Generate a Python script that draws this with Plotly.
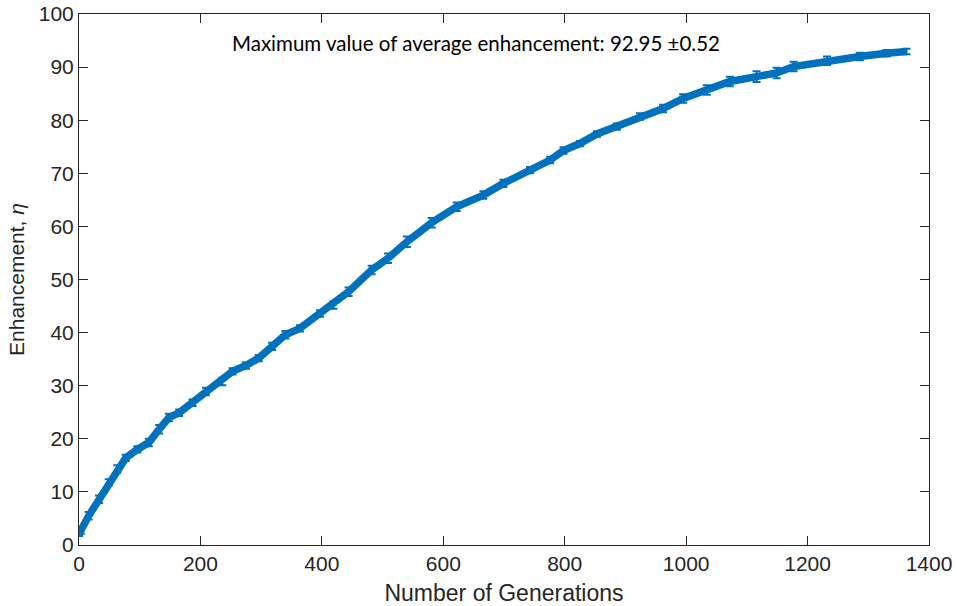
import plotly.graph_objects as go

generations = [0, 3, 16, 33, 49, 63, 77, 96, 115, 132, 148, 165, 187, 209, 236, 253,
               275, 296, 318, 340, 364, 397, 419, 444, 482, 509, 540, 581, 622, 666,
               699, 743, 776, 798, 825, 853, 886, 924, 962, 995, 1034, 1072, 1116,
               1149, 1177, 1232, 1286, 1330, 1363]
enhancement = [2.2, 2.7, 5.5, 8.6, 11.8, 14.3, 16.4, 18.0, 19.3, 21.8, 24.0, 24.9, 26.8,
               28.9, 30.8, 32.7, 33.8, 35.2, 37.4, 39.6, 40.8, 43.6, 45.2, 47.7, 51.8,
               54.0, 57.1, 60.7, 63.7, 65.9, 68.1, 70.6, 72.5, 74.3, 75.6, 77.4, 78.8,
               80.7, 82.2, 84.1, 85.7, 87.3, 88.2, 88.9, 90.1, 91.2, 92.0, 92.6, 92.95]
errors = [0.5, 0.6, 0.7, 0.7, 0.6, 0.7, 0.6, 0.6, 0.7, 0.8, 0.7, 0.6, 0.6, 0.7, 0.7,
          0.6, 0.6, 0.6, 0.7, 0.7, 0.6, 0.6, 0.7, 0.8, 0.8, 0.9, 1.0, 0.9, 0.8, 0.7,
          0.7, 0.6, 0.6, 0.6, 0.5, 0.5, 0.6, 0.6, 0.7, 0.8, 0.9, 0.9, 1.0, 1.0, 0.9,
          0.8, 0.7, 0.6, 0.52]

x_ticks = [0, 200, 400, 600, 800, 1000, 1200, 1400]
y_ticks = [0, 10, 20, 30, 40, 50, 60, 70, 80, 90, 100]

blue = "#0072BD"
axis_col = "#262626"

fig = go.Figure()
fig.add_trace(go.Scatter(
    x=generations, y=enhancement, mode="lines",
    line=dict(color=blue, width=7.5),
    error_y=dict(type="data", array=errors, visible=True, color=blue,
                 thickness=2, width=4),
    showlegend=False,
))

fig.add_annotation(
    x=654, y=94.5, xref="x", yref="y",
    text="Maximum value of average enhancement: 92.95 ±0.52",
    showarrow=False, font=dict(family="Lato", size=20.5, color="black"),
)

axis_common = dict(
    showline=True, linecolor=axis_col, linewidth=1, mirror="ticks",
    ticks="inside", ticklen=9, tickcolor=axis_col, tickwidth=1,
    showgrid=False, zeroline=False, automargin=False,
    tickfont=dict(family="Liberation Sans", size=21, color=axis_col),
)

fig.update_layout(
    width=957, height=606,
    margin=dict(l=79, r=28, t=14, b=61),
    plot_bgcolor="white", paper_bgcolor="white",
    xaxis=dict(range=[0, 1400], tickvals=x_ticks,
               title=dict(text="Number of Generations", standoff=10,
                          font=dict(family="Liberation Sans", size=23, color=axis_col)),
               **axis_common),
    yaxis=dict(range=[0, 100], tickvals=y_ticks,
               title=dict(text="Enhancement, <i>η</i>", standoff=8,
                          font=dict(family="Liberation Sans", size=21, color=axis_col)),
               **axis_common),
)

fig.write_html("out.html", config={"displayModeBar": False},
               post_script="document.body.style.margin='0';")
